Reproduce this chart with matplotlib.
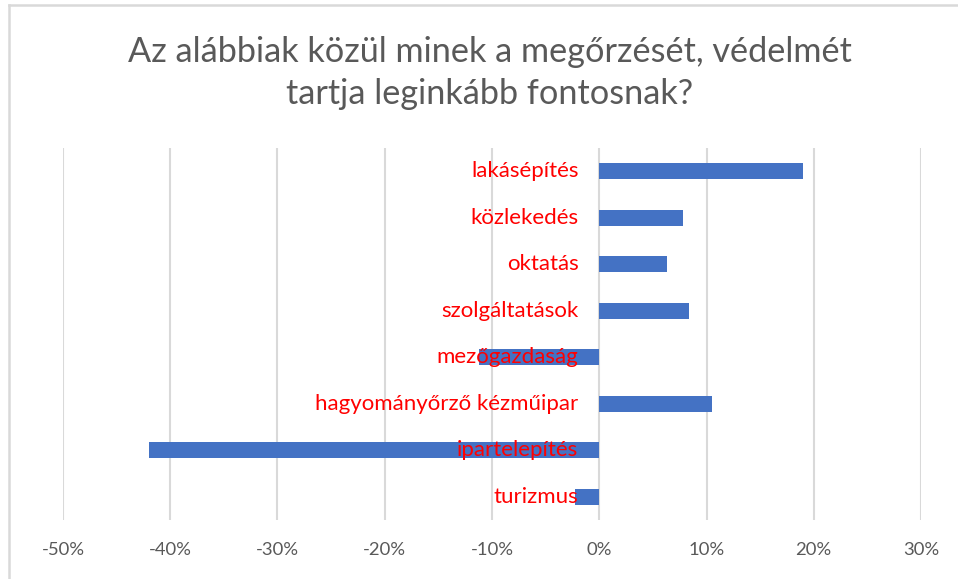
import matplotlib
matplotlib.use("Agg")
import matplotlib.pyplot as plt
from matplotlib.lines import Line2D
from matplotlib.ticker import FuncFormatter, MultipleLocator

categories = ["lakásépítés", "közlekedés", "oktatás", "szolgáltatások",
              "mezőgazdaság", "hagyományőrző kézműipar", "ipartelepítés", "turizmus"]
values = [19.0, 7.8, 6.3, 8.4, -11.2, 10.5, -42.0, -2.3]
title = "Az alábbiak közül minek a megőrzését, védelmét\ntartja leginkább fontosnak?"

W, H = 958, 579
fig = plt.figure(figsize=(W / 100, H / 100), dpi=100)
fig.patch.set_facecolor("white")

ax = fig.add_axes([63 / W, 1 - 520 / H, (921 - 63) / W, (520 - 148) / H])
ypos = list(range(len(categories)))
ax.barh(ypos, values, height=0.35, color="#4472C4", zorder=3)
ax.set_ylim(len(categories) - 0.5, -0.5)
ax.set_xlim(-50, 30)
ax.xaxis.set_major_locator(MultipleLocator(10))
ax.xaxis.set_major_formatter(FuncFormatter(lambda v, p: f"{int(round(v))}%"))
ax.grid(axis="x", color="#d9d9d9", linewidth=1.5, zorder=0)
for s in ax.spines.values():
    s.set_visible(False)
ax.set_yticks([])
ax.tick_params(axis="x", length=0, pad=16, labelsize=13.3, labelcolor="#595959")
for lab in ax.get_xticklabels():
    lab.set_family("Lato")

for y, c in zip(ypos, categories):
    ax.annotate(c, xy=(0, y), xytext=(-15, 0), textcoords="offset points",
                ha="right", va="center", color="#FF0000", fontsize=16,
                family="Lato", zorder=4)

fig.text(490 / W, 1 - 73 / H, title, ha="center", va="center",
         fontsize=24.7, color="#595959", family="Lato", linespacing=1.39)

# chart border (cropped at right and bottom)
fig.add_artist(Line2D([9 / W, 1], [1 - 5 / H, 1 - 5 / H], color="#d9d9d9", linewidth=1.8,
                      transform=fig.transFigure))
fig.add_artist(Line2D([9 / W, 9 / W], [1 - 5 / H, 0], color="#d9d9d9", linewidth=1.8,
                      transform=fig.transFigure))

fig.savefig("out.png", dpi=100)
